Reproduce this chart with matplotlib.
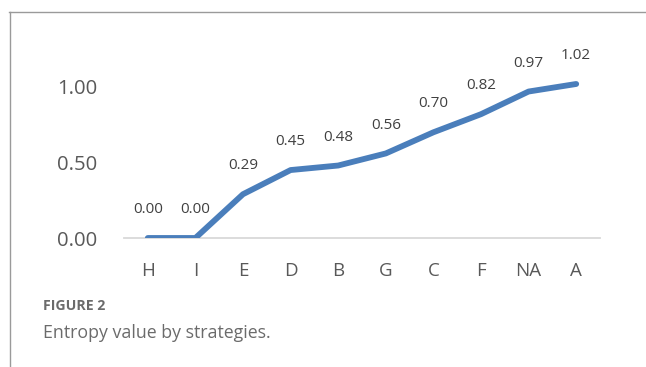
import matplotlib
matplotlib.use("Agg")
import matplotlib.pyplot as plt
from matplotlib.lines import Line2D

strategies = ["H", "I", "E", "D", "B", "G", "C", "F", "NA", "A"]
entropy = [0.00, 0.00, 0.29, 0.45, 0.48, 0.56, 0.70, 0.82, 0.97, 1.02]
y_ticks = [0.00, 0.50, 1.00]

plt.rcParams["font.family"] = ["Open Sans", "DejaVu Sans"]
text_grey = "#595959"

fig = plt.figure(figsize=(6.46, 3.67), dpi=100)

# thin frame around the figure panel (top and left edges)
fig.add_artist(Line2D([9 / 646, 1.0], [1 - 11.5 / 367, 1 - 11.5 / 367],
                      transform=fig.transFigure, color="#9a9a9a", lw=1.0))
fig.add_artist(Line2D([9.5 / 646, 9.5 / 646], [0, 1 - 11.5 / 367],
                      transform=fig.transFigure, color="#9a9a9a", lw=1.0))

# axes: 0 at y=238px, 1.0 at y=87px; x from 124px to 600px
left, right = 124 / 646, 600 / 646
y0_px, y1_px = 238, 87
ymax = 1.2
top_px = y0_px - (y0_px - y1_px) * ymax
ax = fig.add_axes([left, 1 - y0_px / 367, right - left, (y0_px - top_px) / 367])

x = range(len(strategies))
ax.plot(x, entropy, color="#4a7ebb", lw=4.2, solid_capstyle="round",
        solid_joinstyle="round", zorder=3)

for xi, v in zip(x, entropy):
    ax.annotate(f"{v:.2f}", (xi, v), xytext=(0, 15), textcoords="offset points",
                ha="center", va="bottom", fontsize=11, color="#404040",
                annotation_clip=False)

ax.set_xlim(-0.5, len(strategies) - 0.5)
ax.set_ylim(0, ymax)
ax.set_yticks(y_ticks)
ax.set_yticklabels([f"{t:.2f}" for t in y_ticks])
ax.set_xticks(list(x))
ax.set_xticklabels(strategies)

for s in ["top", "right", "left"]:
    ax.spines[s].set_visible(False)
ax.spines["bottom"].set_color("#d9d9d9")
ax.spines["bottom"].set_linewidth(1.3)
ax.tick_params(axis="both", length=0, colors=text_grey)
ax.tick_params(axis="x", pad=17, labelsize=13.5)
ax.tick_params(axis="y", pad=19, labelsize=14.6)

fig.text(43 / 646, 1 - 306 / 367, "FIGURE 2", fontsize=10.2, fontweight="bold",
         color="#6b6b6b", va="center", ha="left")
fig.text(43 / 646, 1 - 333 / 367, "Entropy value by strategies.", fontsize=12.8,
         color="#6b6b6b", va="center", ha="left")

fig.savefig("out.png", dpi=100)
